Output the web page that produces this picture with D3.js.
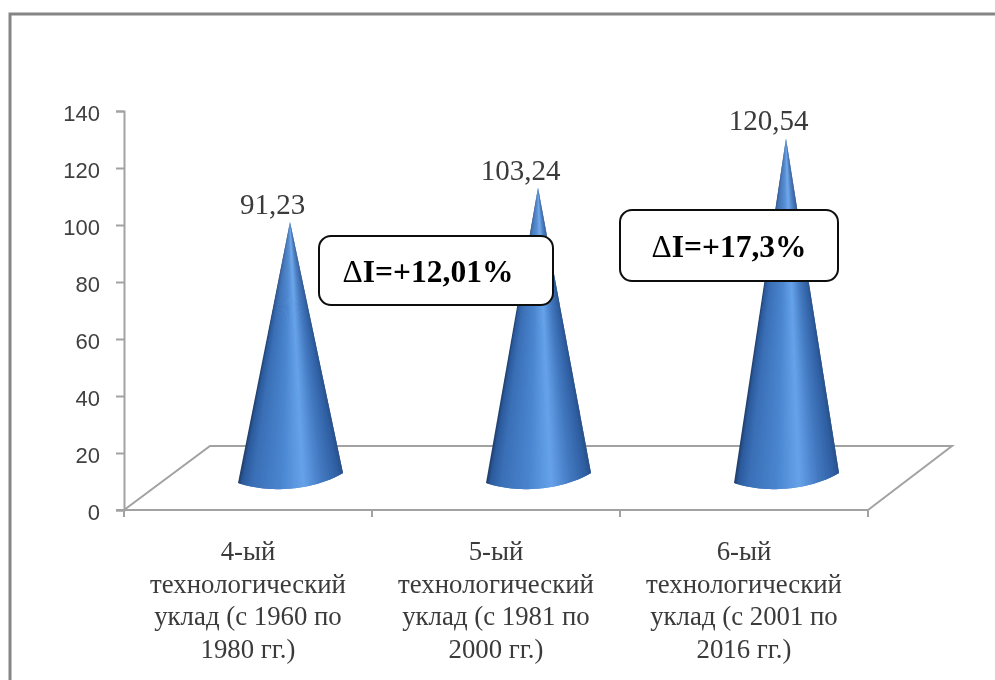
<!DOCTYPE html>
<html>
<head>
<meta charset="utf-8">
<script src="https://cdn.jsdelivr.net/npm/d3@7"></script>
<style>
  html, body { margin: 0; padding: 0; background: #fff; }
  svg { display: block; }
</style>
</head>
<body>
<svg width="995" height="680"></svg>
<script>
// values
const categories = [
  ["4-ый", "технологический", "уклад (с 1960 по", "1980 гг.)"],
  ["5-ый", "технологический", "уклад (с 1981 по", "2000 гг.)"],
  ["6-ый", "технологический", "уклад (с 2001 по", "2016 гг.)"]
];
const values = [91.23, 103.24, 120.54];
const valueLabels = ["91,23", "103,24", "120,54"];
const yTicks = [0, 20, 40, 60, 80, 100, 120, 140];
const callouts = ["ΔI=+12,01%", "ΔI=+17,3%"];

const svg = d3.select("svg");

// reference is a soft scan, so everything gets a slight blur
svg.append("defs").append("filter").attr("id", "soft")
  .append("feGaussianBlur").attr("stdDeviation", 0.5);
const root = svg.append("g").attr("filter", "url(#soft)");

const y = d3.scaleLinear().domain([0, 140]).range([510, 111]);
const x = d3.scaleBand().domain(d3.range(categories.length)).range([124, 868]);

// the floor of the 3d chart sits up and to the right of the front axis
const depthX = 84, depthY = 64;
// cones stand half way into the floor
const coneDx = 42, coneDy = 28, coneHalf = 52;
const axisColor = "#a2a2a2";

// picture frame
root.append("path")
  .attr("d", "M10,680V14H995")
  .attr("fill", "none").attr("stroke", "#858585").attr("stroke-width", 3);

// floor
root.append("path")
  .attr("d", `M${x.range()[0]},${y(0)}l${depthX + 2},${-depthY}H${x.range()[1] + depthX}L${x.range()[1]},${y(0)}`)
  .attr("fill", "none").attr("stroke", axisColor).attr("stroke-width", 2);

// axes
const yAxis = d3.axisLeft(y).tickValues(yTicks).tickSize(8).tickPadding(16);
const yG = root.append("g").attr("transform", "translate(124,0)").call(yAxis);
yG.selectAll("path,line").attr("stroke", axisColor).attr("stroke-width", 2);
yG.selectAll("text").attr("font-family", "Liberation Sans").attr("font-size", 22)
  .attr("fill", "#404040").attr("dy", "0.42em");

root.append("line").attr("x1", 116).attr("x2", 868).attr("y1", y(0)).attr("y2", y(0))
  .attr("stroke", axisColor).attr("stroke-width", 2);
root.selectAll(".xtick").data(d3.range(categories.length + 1)).join("line")
  .attr("class", "xtick")
  .attr("x1", d => 124 + d * x.step()).attr("x2", d => 124 + d * x.step())
  .attr("y1", y(0)).attr("y2", y(0) + 7)
  .attr("stroke", axisColor).attr("stroke-width", 2);

// cones: a fan of thin wedges from the tip so the shading narrows with the cone
const shade = d3.scaleLinear()
  .domain([0, 0.04, 0.14, 0.4, 0.6, 0.78, 0.94, 1])
  .range(["#1f3c66", "#2c5a9c", "#3a6fb6", "#4a85cf", "#66a2ea", "#4379c0", "#2f5fa3", "#2a5189"]);
const wedges = d3.range(70);

function basePoint(cx, base, t) {
  // cubic from the left end of the base round to the right end
  const s = 1 - t, p = [cx - coneHalf, cx - 20, cx + 25, cx + coneHalf + 1];
  const q = [base + 1, base + 12, base + 8, base - 9];
  const f = a => s * s * s * a[0] + 3 * s * s * t * a[1] + 3 * s * t * t * a[2] + t * t * t * a[3];
  return [f(p), f(q)];
}

values.forEach((v, i) => {
  const cx = x(i) + x.bandwidth() / 2 + coneDx;
  const top = y(v) - coneDy, base = y(0) - coneDy;
  // each wedge runs under the next one, no gaps and no stroke build up
  root.append("g").selectAll("path").data(wedges).join("path")
    .attr("d", k => {
      const a = basePoint(cx, base, k / wedges.length);
      const b = basePoint(cx, base, Math.min(1, (k + 2) / wedges.length));
      return `M${cx},${top}L${a[0]},${a[1]}L${b[0]},${b[1]}Z`;
    })
    .attr("fill", k => shade((k + 0.5) / wedges.length));
});

// value labels
root.selectAll(".vlabel").data(values).join("text")
  .attr("class", "vlabel")
  .attr("x", (v, i) => x(i) + x.bandwidth() / 2 + 24.5)
  .attr("y", v => y(v) - coneDy - 8)
  .attr("text-anchor", "middle")
  .attr("font-family", "Liberation Serif").attr("font-size", 29).attr("fill", "#3a3a3a")
  .text((v, i) => valueLabels[i]);

// category labels
const catG = root.selectAll(".cat").data(categories).join("text")
  .attr("class", "cat")
  .attr("text-anchor", "middle")
  .attr("font-family", "Liberation Serif").attr("font-size", 26.8).attr("fill", "#3a3a3a");
catG.selectAll("tspan").data((d, i) => d.map(t => ({ t, i }))).join("tspan")
  .attr("x", d => x(d.i) + x.bandwidth() / 2)
  .attr("y", (d, j) => 560 + j * 32.5)
  .text(d => d.t);

// callouts over the cones
const boxes = [
  { x: 319, y: 236, w: 234, h: 69, tx: 428 },
  { x: 620, y: 210, w: 218, h: 71, tx: 729 }
];
const callG = root.selectAll(".callout").data(callouts).join("g").attr("class", "callout");
callG.append("rect")
  .attr("x", (d, i) => boxes[i].x).attr("y", (d, i) => boxes[i].y)
  .attr("width", (d, i) => boxes[i].w).attr("height", (d, i) => boxes[i].h)
  .attr("rx", 12).attr("fill", "#fff").attr("stroke", "#111").attr("stroke-width", 2);
const callText = callG.append("text")
  .attr("x", (d, i) => boxes[i].tx)
  .attr("y", (d, i) => boxes[i].y + boxes[i].h / 2 + 11)
  .attr("text-anchor", "middle")
  .attr("font-family", "Liberation Serif").attr("font-weight", "bold").attr("font-size", 31.5).attr("fill", "#000");
callText.append("tspan").attr("font-weight", "normal").text(d => d.slice(0, 1));
callText.append("tspan").text(d => d.slice(1));
</script>
</body>
</html>
